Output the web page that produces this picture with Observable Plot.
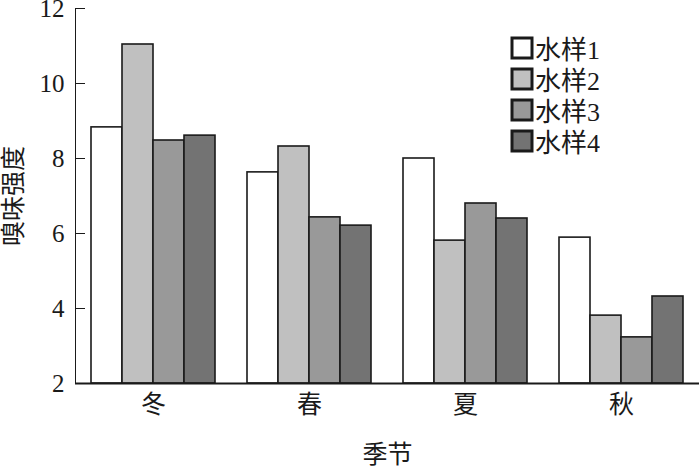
<!DOCTYPE html>
<html><head><meta charset="utf-8">
<script src="https://cdn.jsdelivr.net/npm/d3@7"></script>
<script src="https://cdn.jsdelivr.net/npm/@observablehq/plot@0.6"></script>
<style>
body{margin:0;background:#fff;}
#wrap{position:relative;width:700px;height:468px;overflow:hidden;}
#wrap svg text{font-family:"Liberation Serif","Noto Sans CJK SC",serif !important;font-size:25px !important;}
#legend, #legend span, #legend div{font-family:"Liberation Serif","Noto Sans CJK SC",serif !important;font-size:26px !important;}
#legend{position:absolute;left:512px;top:32px;color:#1a1a1a;}
#legend .lg-swatch{display:flex !important;align-items:center;height:31px;padding:0 !important;margin:0 !important;}
#legend .lg-swatch svg{margin-right:3px !important;overflow:visible;}
#legend .lg-swatch svg rect{stroke:#1a1a1a;stroke-width:3px;}
</style></head><body><div id="wrap"><div id="legend"></div></div>
<script>
const seasons = ["冬", "春", "夏", "秋"];
const samples = ["水样1", "水样2", "水样3", "水样4"];
const sample1 = [8.83, 7.63, 8.0, 5.89];
const sample2 = [11.04, 8.32, 5.81, 3.81];
const sample3 = [8.48, 6.43, 6.8, 3.23];
const sample4 = [8.61, 6.21, 6.4, 4.32];
const yTicks = [2, 4, 6, 8, 10, 12];
const colors = ["#ffffff", "#c0c0c0", "#999999", "#737373"];

const series = [sample1, sample2, sample3, sample4];
const data = seasons.flatMap((s, i) => samples.map((k, j) => ({season: s, sample: k, value: series[j][i]})));
const font = "'Liberation Serif','Noto Sans CJK SC',serif";

const plot = Plot.plot({
  width: 700, height: 468,
  marginLeft: 73, marginRight: 0, marginTop: 8, marginBottom: 85,
  style: {fontFamily: font, fontSize: "25px", color: "#1a1a1a", background: "transparent"},
  fx: {domain: seasons, padding: 0, axis: "bottom", tickSize: 0, tickPadding: 12, label: "季节", labelAnchor: "center", labelOffset: 79},
  x: {domain: samples, paddingInner: 0, paddingOuter: 0.47, axis: null},
  y: {domain: [2, 12], ticks: yTicks, tickSize: -10, tickPadding: 21, line: true, label: "嗅味强度", labelAnchor: "center", labelArrow: "none", labelOffset: 71},
  color: {domain: samples, range: colors},
  marks: [
    Plot.barY(data, {fx: "season", x: "sample", y1: 2, y2: "value", fill: "sample", stroke: "#1a1a1a", strokeWidth: 1.6}),
    Plot.ruleY([2], {stroke: "#1a1a1a", strokeWidth: 2})
  ]
});
document.getElementById("wrap").prepend(plot);

const legend = Plot.legend({
  color: {domain: samples, range: colors},
  legend: "swatches", columns: 1, swatchSize: 20, className: "lg",
  style: {fontFamily: font, fontSize: "26px", color: "#1a1a1a"}
});
document.getElementById("legend").append(legend);
</script>
</body></html>
